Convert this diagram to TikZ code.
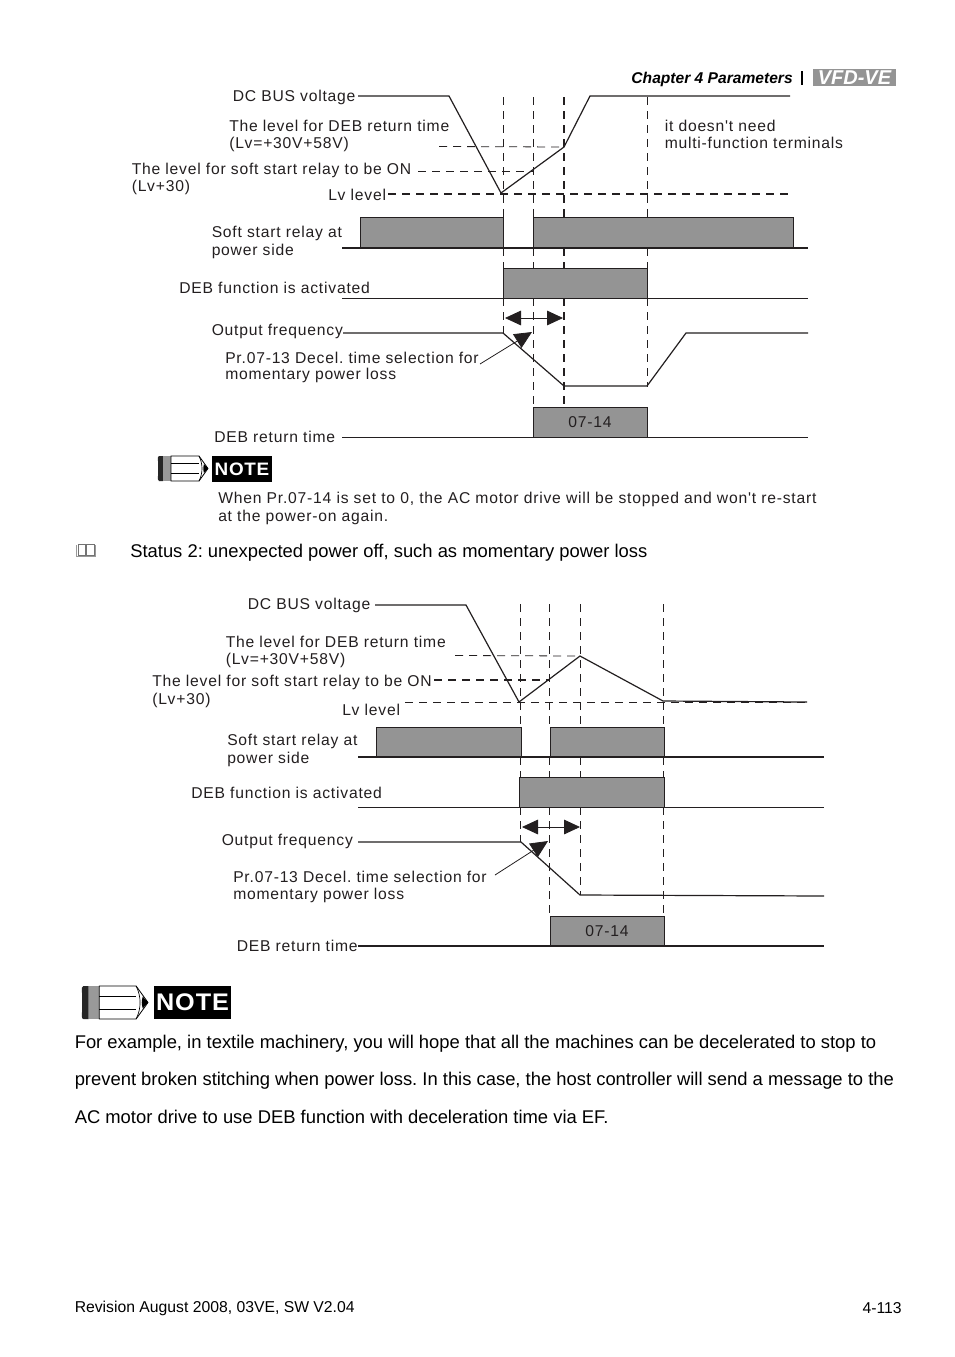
\documentclass[tikz,border=0pt]{standalone}
\usepackage{fontspec}
\setmainfont{Liberation Sans}
\newfontfamily\difont[LetterSpace=5]{Liberation Sans}
\newfontfamily\notefont[LetterSpace=4,FakeStretch=1.05]{Liberation Sans}
\usetikzlibrary{arrows.meta}
\definecolor{boxgray}{HTML}{949494}
\definecolor{ink}{HTML}{231F20}
\tikzset{
 x=0.75pt,y=-0.75pt,
 lab/.style={anchor=west,inner sep=0pt,yshift=-0.75pt,font=\frenchspacing\difont\fontsize{11.75}{14}\selectfont,text=ink,align=left},
 body/.style={anchor=west,inner sep=0pt,yshift=-1.1pt,font=\frenchspacing\fontsize{13.8}{16}\selectfont,text=black},
 foot/.style={inner sep=0pt,yshift=-1.1pt,font=\fontsize{11.8}{14}\selectfont},
 wave/.style={draw=ink,line width=0.9pt,line join=miter},
 base/.style={draw=ink,line width=0.7pt},
 basethick/.style={draw=ink,line width=1.3pt},
 pulse/.style={draw=ink,line width=0.7pt,fill=boxgray,inner sep=0pt,minimum height=22.5pt},
 pulsetxt/.style={pulse,font=\difont\fontsize{11.75}{14}\selectfont,text=ink},
 guide/.style={draw=ink,line width=0.6pt,dash pattern=on 6pt off 4.5pt},
 guidethick/.style={draw=ink,line width=1.3pt,dash pattern=on 6pt off 4.5pt},
 dbl/.style={draw=ink,line width=0.6pt,{Triangle[length=12pt,width=11pt]}-{Triangle[length=12pt,width=11pt]}},
 ptr/.style={draw=ink,line width=0.6pt,-{Triangle[length=13pt,width=12pt]}},
}
\newcommand{\pencil}[3]{% x,y(top-left), scale
 \begin{scope}[shift={(#1,#2)},x=#3*0.75pt,y=-#3*0.75pt]
  \fill[black!85] (1,0) -- (5,0) -- (5,25) -- (1,25) .. controls (-0.5,25) and (0,22) .. (0,20) -- (0,5) .. controls (0,2) and (-0.5,0) .. (1,0);
  \fill[black!40] (5,0) rectangle (13,25);
  \draw[black,line width=0.6pt] (13,0) -- (41,0) -- (50,12.5) -- (41,25) -- (13,25) -- cycle;
  \draw[black,line width=0.6pt] (13,7.5) -- (41,7.5) (13,17.5) -- (41,17.5);
  \draw[black,line width=0.5pt] (41,0) .. controls (45,8) and (45,17) .. (41,25);
  \fill[black] (46,8) -- (50,12.5) -- (46,17) .. controls (45,13) and (45,12) .. (46,8);
 \end{scope}}
\begin{document}
\begin{tikzpicture}
\useasboundingbox (0,0) rectangle (954,1357);
\fill[white] (0,0) rectangle (954,1357);

% ---------- page header
\node[anchor=east,inner sep=0pt,yshift=-0.75pt,font=\bfseries\itshape\fontsize{11.7}{14}\selectfont] (hdr) at (793,78) {Chapter 4 Parameters};
\coordinate (barT) at (802,71); \coordinate (barB) at (802,85);
\draw[black,line width=0.9pt] (barT) -- (barB);
\node[fill=black!42,text=white,inner sep=0pt,minimum width=62.25pt,minimum height=12.75pt,font=\bfseries\itshape\fontsize{15}{14}\selectfont] (logo) at (854.5,77.5) {VFD-VE};

% ---------- first diagram: coordinates
\foreach \n/\x in {a/503,b/533,c/564,d/647}{
 \coordinate (\n0) at (\x,97);
 \coordinate (\n1) at (\x,217);
 \coordinate (\n2) at (\x,248);
 \coordinate (\n3) at (\x,268);
 \coordinate (\n4) at (\x,298);
}
\coordinate (a5) at (503,333); \coordinate (b5) at (533,407); \coordinate (c5) at (564,407); \coordinate (d5) at (647,387);

% pulses first
\node[pulse,minimum width=107.25pt] (relay1a) at (431.5,232) {};
\node[pulse,minimum width=195pt] (relay1b) at (663,232) {};
\node[pulse,minimum width=108pt] (deb1) at (575,283) {};
\node[pulsetxt,minimum width=85.5pt] (ret1) at (590,422) {07-14};

% guides
\draw[guide] (a0) -- (a1) (a2) -- (a3) (a4) -- (a5);
\draw[guide] (b0) -- (b1) (b2) -- (b3) (b4) -- (b5);
\draw[guidethick] (c0) -- (c1) (c2) -- (c3) (c4) -- (c5);
\draw[guide] (d0) -- (d1) (d2) -- (d3) (d4) -- (d5);

% labels
\node[lab] (l1) at (232.5,96) {DC BUS voltage};
\node[lab] (l2) at (229,125) {The level for DEB return time};
\node[lab] (l3) at (229,143) {(Lv=+30V+58V)};
\node[lab] (l4) at (131.5,169) {The level for soft start relay to be ON};
\node[lab] (l5) at (131.5,186) {(Lv+30)};
\node[lab] (l6) at (328,194) {Lv level};
\node[lab] (l7) at (211.5,232) {Soft start relay at};
\node[lab] (l8) at (211.5,250) {power side};
\node[lab] (l9) at (179,287) {DEB function is activated};
\node[lab] (l10) at (211.5,330) {Output frequency};
\node[lab] (l11) at (225,357) {Pr.07-13 Decel. time selection for};
\node[lab] (l12) at (225,374) {momentary power loss};
\node[lab] (l13) at (214,436) {DEB return time};
\node[lab] (l14) at (664.5,125) {it doesn't need};
\node[lab] (l15) at (664.5,142) {multi-function terminals};

% levels
\coordinate (v1s) at (358,96); \coordinate (v1a) at (449,96); \coordinate (v1b) at (501,193); \coordinate (v1c) at (564,147); \coordinate (v1d) at (590,96); \coordinate (v1e) at (790,96);
\coordinate (ld1s) at (439,146.5);
\coordinate (ld2s) at (418,171); \coordinate (ld2e) at (533,171);
\coordinate (ld3s) at (388,194); \coordinate (ld3e) at (792,194);
\draw[guide] (ld1s) -- (v1c);
\draw[guide] (ld2s) -- (ld2e);
\draw[guidethick] (ld3s) -- (ld3e);
\draw[wave] (v1s) -- (v1a) -- (v1b) -- (v1c) -- (v1d) -- (v1e);

% base lines
\coordinate (b1s) at (342,248); \coordinate (b1e) at (808,248);
\coordinate (b2s) at (342,298); \coordinate (b2e) at (808,298);
\coordinate (b3s) at (342,437); \coordinate (b3e) at (808,437);
\draw[basethick] (b1s) -- (b1e);
\draw[base] (b2s) -- (b2e);
\draw[base] (b3s) -- (b3e);

% output frequency
\coordinate (f1s) at (343,333); \coordinate (f1a) at (503,333); \coordinate (f1b) at (564,386); \coordinate (f1c) at (647,386); \coordinate (f1d) at (686,333); \coordinate (f1e) at (808,333);
\draw[wave] (f1s) -- (f1a) -- (f1b) -- (f1c) -- (f1d) -- (f1e);
\coordinate (da1) at (505,318); \coordinate (da2) at (563,318);
\draw[dbl] (da1) -- (da2);
\coordinate (pt1s) at (480,364); \coordinate (pt1e) at (532,332);
\draw[ptr] (pt1s) -- (pt1e);

% first note
\pencil{158}{456}{1}
\node[fill=black,text=white,inner sep=0pt,minimum width=45pt,minimum height=19pt,font=\notefont\bfseries\fontsize{13.5}{14}\selectfont] (n1) at (242,469) {NOTE};
\node[lab] (n1a) at (218,498) {When Pr.07-14 is set to 0, the AC motor drive will be stopped and won't re-start};
\node[lab] (n1b) at (218,516) {at the power-on again.};

% book bullet and status line
\draw[black!40,line width=1.1pt] (76.5,545) -- (76.5,556.5) -- (95.5,556.5) -- (95.5,545);
\draw[black!55,line width=0.5pt] (78,544) rectangle (85.5,555) (86.5,544) rectangle (94,555);
\node[body] (st) at (130,551) {Status 2: unexpected power off, such as momentary power loss};

% ---------- second diagram
\foreach \n/\x in {e/520,f/549,g/580,h/663}{
 \coordinate (\n0) at (\x,604);
 \coordinate (\n1) at (\x,727);
 \coordinate (\n2) at (\x,757);
 \coordinate (\n3) at (\x,777);
 \coordinate (\n4) at (\x,807);
}
\coordinate (e5) at (520,842); \coordinate (f5) at (549,916); \coordinate (g5) at (580,895); \coordinate (h5) at (663,916);

\node[pulse,minimum width=108.75pt] (relay2a) at (448.5,742) {};
\node[pulse,minimum width=85.5pt] (relay2b) at (607,742) {};
\node[pulse,minimum width=108.75pt] (deb2) at (591.5,792) {};
\node[pulsetxt,minimum width=85.5pt] (ret2) at (607,931) {07-14};

\draw[guide] (e0) -- (e1) (e2) -- (e3) (e4) -- (e5);
\draw[guide] (f0) -- (f1) (f2) -- (f3) (f4) -- (f5);
\draw[guide] (g0) -- (g1) (g2) -- (g3) (g4) -- (g5);
\draw[guide] (h0) -- (h1) (h2) -- (h3) (h4) -- (h5);

\node[lab] (m1) at (247.5,604) {DC BUS voltage};
\node[lab] (m2) at (225.5,641) {The level for DEB return time};
\node[lab] (m3) at (225.5,659) {(Lv=+30V+58V)};
\node[lab] (m4) at (152,681) {The level for soft start relay to be ON};
\node[lab] (m5) at (152,699) {(Lv+30)};
\node[lab] (m6) at (342,709) {Lv level};
\node[lab] (m7) at (227,740) {Soft start relay at};
\node[lab] (m8) at (227,758) {power side};
\node[lab] (m9) at (191,792) {DEB function is activated};
\node[lab] (m10) at (221.5,840) {Output frequency};
\node[lab] (m11) at (233,876) {Pr.07-13 Decel. time selection for};
\node[lab] (m12) at (233,894) {momentary power loss};
\node[lab] (m13) at (236.5,945) {DEB return time};

\coordinate (v2s) at (375,605); \coordinate (v2a) at (466,605); \coordinate (v2b) at (519,702); \coordinate (v2c) at (580,656); \coordinate (v2d) at (663,701); \coordinate (v2e) at (807,702);
\coordinate (ld4s) at (455,655.5);
\coordinate (ld5s) at (434,680); \coordinate (ld5e) at (549,680);
\coordinate (ld6s) at (405,702.5); \coordinate (ld6e) at (807,702.5);
\draw[guide] (ld4s) -- (v2c);
\draw[guidethick] (ld5s) -- (ld5e);
\draw[guide] (ld6s) -- (ld6e);
\draw[wave] (v2s) -- (v2a) -- (v2b) -- (v2c) -- (v2d) -- (v2e);

\coordinate (c1s) at (358,757); \coordinate (c1e) at (824,757);
\coordinate (c2s) at (358,807); \coordinate (c2e) at (824,807);
\coordinate (c3s) at (358,946); \coordinate (c3e) at (824,946);
\draw[basethick] (c1s) -- (c1e);
\draw[base] (c2s) -- (c2e);
\draw[basethick] (c3s) -- (c3e);

\coordinate (f2s) at (358,842); \coordinate (f2a) at (521,842); \coordinate (f2b) at (580,895); \coordinate (f2c) at (824,896);
\draw[wave] (f2s) -- (f2a) -- (f2b) -- (f2c);
\coordinate (db1) at (522,827); \coordinate (db2) at (580,827);
\draw[dbl] (db1) -- (db2);
\coordinate (pt2s) at (495,875); \coordinate (pt2e) at (548,841);
\draw[ptr] (pt2s) -- (pt2e);

% ---------- second note and paragraph
\pencil{82}{986}{1.32}
\node[fill=black,text=white,inner sep=0pt,minimum width=57.75pt,minimum height=24.75pt,font=\notefont\bfseries\fontsize{18}{20}\selectfont] (n2) at (192.5,1002.5) {NOTE};
\node[body] (p1) at (74.5,1042) {For example, in textile machinery, you will hope that all the machines can be decelerated to stop to};
\node[body] (p2) at (74.5,1079) {prevent broken stitching when power loss. In this case, the host controller will send a message to the};
\node[body] (p3) at (74.5,1115) {AC motor drive to use DEB function with deceleration time via EF.};

% ---------- footer
\node[foot,anchor=west] (ft1) at (74.5,1307) {Revision August 2008, 03VE, SW V2.04};
\node[foot,anchor=east] (ft2) at (902,1307) {4-113};
\end{tikzpicture}
\end{document}
